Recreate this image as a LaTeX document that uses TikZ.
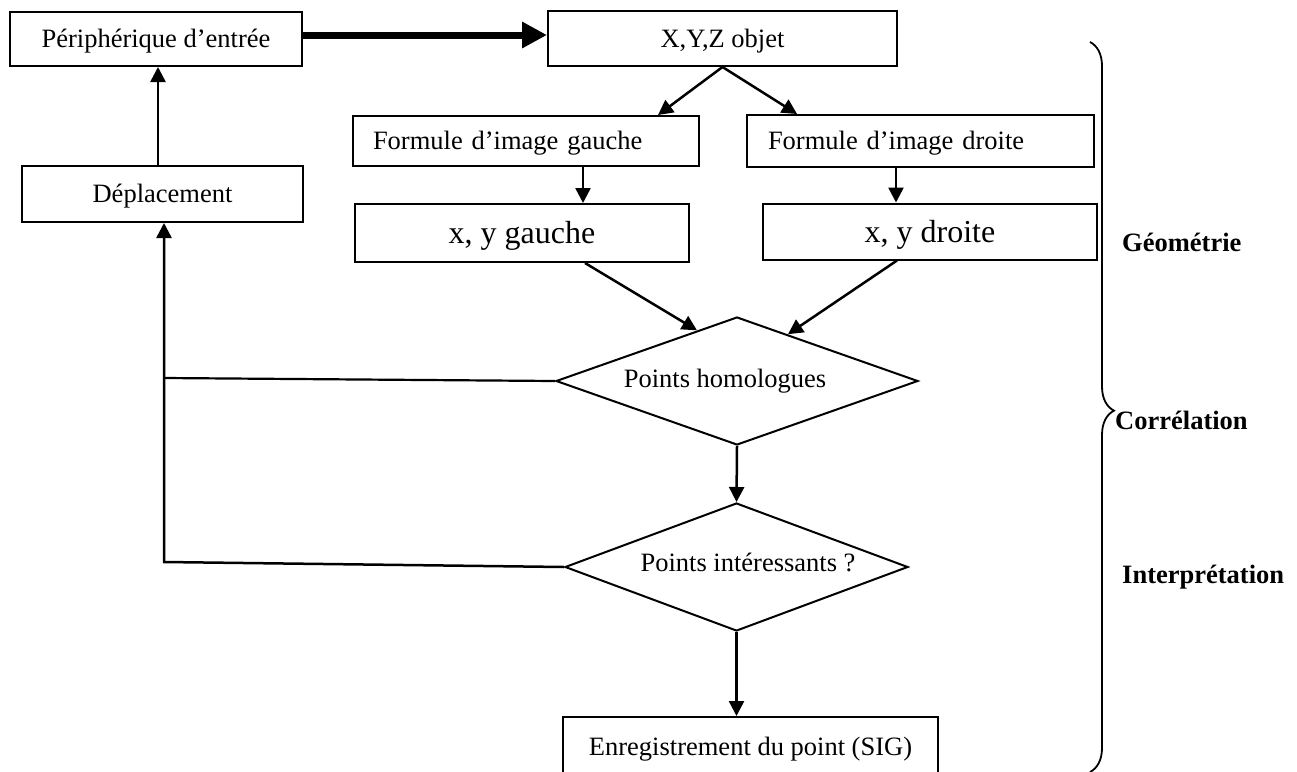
\documentclass[tikz,border=0pt]{standalone}
\usepackage{fontspec}
\setmainfont{Liberation Serif}
\usetikzlibrary{arrows.meta,shapes.geometric,calc,decorations.pathreplacing}

\begin{document}
\begin{tikzpicture}[x=1pt,y=-1pt,
  txt/.style={font=\fontsize{26.5pt}{30pt}\selectfont, text height=22pt, text depth=4.6pt},
  bigtxt/.style={font=\fontsize{32pt}{36pt}\selectfont, text height=26.5pt, text depth=5.5pt},
  box/.style={draw, line width=2pt, rectangle, inner sep=0pt, txt},
  boxl/.style={draw, line width=2pt, rectangle, inner ysep=0pt, align=left, txt},
  dia/.style={draw, line width=2pt, diamond, inner sep=0pt},
  lbl/.style={inner sep=0pt, txt},
  side/.style={inner sep=0pt, anchor=west, font=\fontsize{26.5pt}{30pt}\selectfont\bfseries},
  conn/.style={line width=2.5pt, -{Triangle[length=15pt,width=15pt]}},
  plain/.style={line width=2.2pt},
  bigarrow/.style={line width=7pt, -{Triangle[length=25pt,width=25pt]}}
]
\useasboundingbox (0,0) rectangle (1297,771);
\clip (0,0) rectangle (1297,771);

% boxes
\node[box, minimum width=292pt, minimum height=54pt] (periph) at (156,39) {Périphérique d’entrée};
\node[box, minimum width=349pt, minimum height=55pt] (xyz) at (722.5,38.5) {X,Y,Z objet};
\node[boxl, text width=306pt, inner xsep=20pt, minimum height=50pt] (fg) at (526,141) {Formule d’image gauche};
\node[boxl, text width=305pt, inner xsep=21pt, minimum height=52pt] (fd) at (920.5,141) {Formule d’image droite};
\node[box, bigtxt, minimum width=334pt, minimum height=58pt] (xyg) at (522,233) {x, y gauche};
\node[box, bigtxt, minimum width=334pt, minimum height=56pt] (xyd) at (930,231.5) {x, y droite};
\node[box, minimum width=281pt, minimum height=56pt] (depl) at (162.5,194) {Déplacement};
\node[box, minimum width=375pt, minimum height=60pt] (enr) at (750.5,747) {Enregistrement du point (SIG)};

% decisions
\node[dia, minimum width=362pt, minimum height=128pt] (hom) at (737,381) {};
\node[lbl] (homtxt) at (725,379) {Points homologues};
\node[dia, minimum width=343pt, minimum height=128pt] (int) at (736.5,567) {};
\node[lbl] (inttxt) at (748,563) {Points intéressants ?};

% connectors
\draw[bigarrow] ([yshift=4pt]periph.east) -- ([yshift=4pt]periph.east -| xyz.west);
\draw[conn] ([xshift=-4.5pt]depl.north) -- ([xshift=-4.5pt]depl.north |- periph.south);
\draw[conn] (xyz.south) -- ([xshift=132pt]fg.north);
\draw[conn] (xyz.south) -- ([xshift=-123.5pt]fd.north);
\draw[conn] ([xshift=57pt]fg.south) -- ([xshift=57pt]fg.south |- xyg.north);
\draw[conn] ([xshift=-24.5pt]fd.south) -- ([xshift=-24.5pt]fd.south |- xyd.north);
\draw[conn] ([xshift=63pt]xyg.south) -- ($(hom.north)!0.22!(hom.west)$);
\draw[conn] ([xshift=-33pt]xyd.south) -- ($(hom.north)!0.28!(hom.east)$);
\draw[conn] (hom.south) -- (int.north);
\draw[conn] (int.south) -- (int.south |- enr.north);

% feedback loop
\coordinate (fb1) at (164,378);
\coordinate (fb2) at (164,562);
\draw[plain] (hom.west) -- (fb1);
\draw[conn] (int.west) -- (fb2) -- (fb2 |- depl.south);

% phases
\draw[line width=1.8pt, decorate, decoration={brace, amplitude=24pt, aspect=0.505}] (1090,42) -- (1090,772);
\node[side] (geo) at (1122,242) {Géométrie};
\node[side] (cor) at (1115,420) {Corrélation};
\node[side] (interp) at (1122,577) {Interprétation};
\end{tikzpicture}
\end{document}
